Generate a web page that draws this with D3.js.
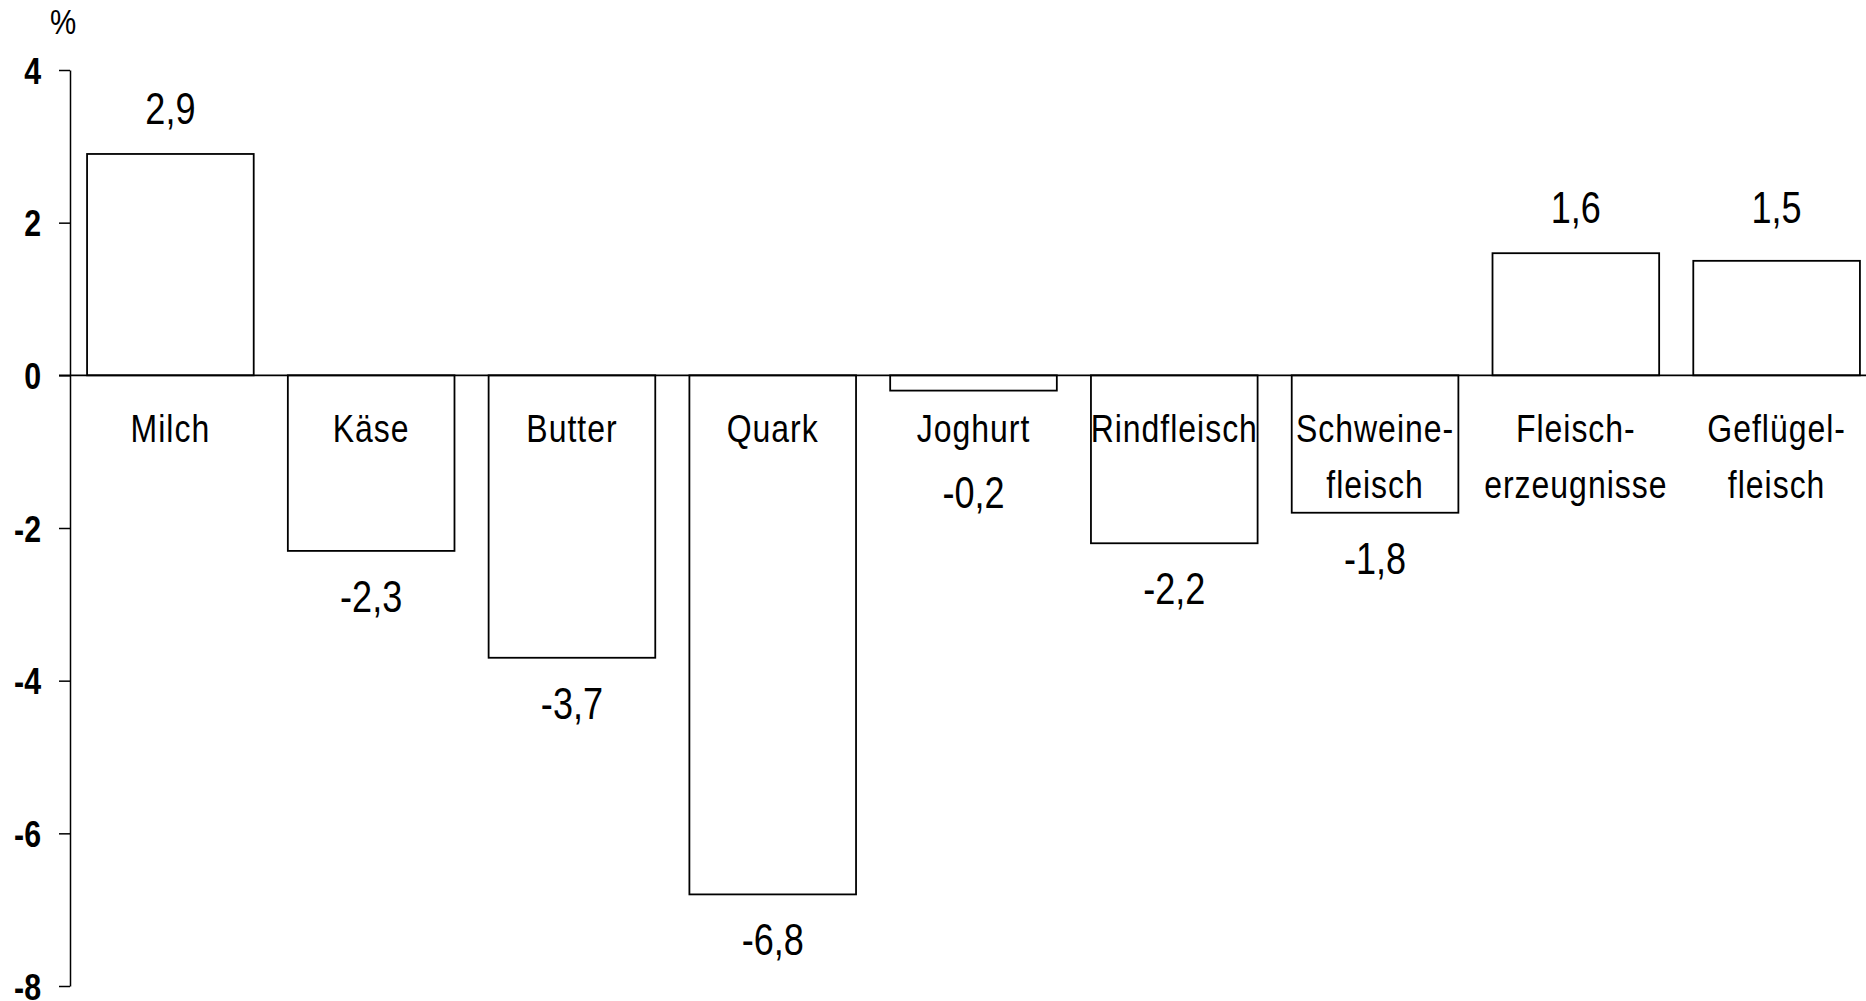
<!DOCTYPE html>
<html>
<head>
<meta charset="utf-8">
<script src="https://cdn.jsdelivr.net/npm/d3@7"></script>
<style>
  html, body { margin: 0; padding: 0; background: #fff; }
  svg { display: block; }
  text { font-family: "Liberation Sans", Arial, sans-serif; fill: #000; }
</style>
</head>
<body>
<svg id="chart" width="1866" height="1001"></svg>
<script>
// Veränderung gegenüber Vorjahr in %
const categories = ["Milch", "Käse", "Butter", "Quark", "Joghurt", "Rindfleisch", "Schweine-\nfleisch", "Fleisch-\nerzeugnisse", "Geflügel-\nfleisch"];
const values = [2.9, -2.3, -3.7, -6.8, -0.2, -2.2, -1.8, 1.6, 1.5];
const valueLabels = ["2,9", "-2,3", "-3,7", "-6,8", "-0,2", "-2,2", "-1,8", "1,6", "1,5"];
const yTicks = [4, 2, 0, -2, -4, -6, -8];
const unitLabel = "%";

// narrow type: Liberation Sans squeezed horizontally
const NARROW = 0.82;

const svg = d3.select("#chart");
const W = 1866, H = 1001;

const x = d3.scaleBand()
  .domain(categories)
  .range([70, 1877])
  .paddingInner(0.17)
  .paddingOuter(0.085);

const y = d3.scaleLinear()
  .domain([-8, 4])
  .range([986, 70]);

function narrowText(sel, fx, fy) {
  sel.attr("transform", (d, i) => `translate(${fx(d, i)},${fy(d, i)}) scale(${NARROW},1)`)
     .attr("x", 0).attr("y", 0);
  return sel;
}

// y axis
const yAxis = d3.axisLeft(y)
  .tickValues(yTicks)
  .tickSize(11)
  .tickSizeOuter(0)
  .tickFormat(d => String(d));

const gy = svg.append("g")
  .attr("transform", "translate(70,0)")
  .call(yAxis);
gy.select(".domain").attr("stroke", "#000").attr("stroke-width", 1.5);
gy.selectAll(".tick line").attr("stroke", "#000").attr("stroke-width", 1.5);
gy.selectAll(".tick text")
  .attr("transform", `scale(${NARROW},1)`)
  .attr("x", -29 / NARROW)
  .attr("dy", "0.36em")
  .style("font-size", "37px")
  .style("font-weight", "bold")
  .style("font-family", "\"Liberation Sans\", Arial, sans-serif");

// unit label
svg.append("text")
  .attr("transform", `translate(63,34) scale(${NARROW},1)`)
  .attr("text-anchor", "middle")
  .style("font-size", "36px")
  .text(unitLabel);

// bars
svg.append("g").selectAll("rect")
  .data(values)
  .join("rect")
  .attr("x", (d, i) => x(categories[i]))
  .attr("width", x.bandwidth())
  .attr("y", d => y(Math.max(0, d)))
  .attr("height", d => Math.abs(y(d) - y(0)))
  .attr("fill", "#fff")
  .attr("stroke", "#000")
  .attr("stroke-width", 1.8);

// zero line
svg.append("line")
  .attr("x1", 59).attr("x2", W)
  .attr("y1", y(0)).attr("y2", y(0))
  .attr("stroke", "#000")
  .attr("stroke-width", 1.8);

// category labels
const lineGap = 56;
const catBase = y(0) + 67;
const cats = svg.append("g").selectAll("text")
  .data(categories)
  .join("text")
  .attr("text-anchor", "middle")
  .style("font-size", "39px")
  .style("letter-spacing", "1.2px");
narrowText(cats, d => x(d) + x.bandwidth() / 2, () => catBase);
cats.selectAll("tspan")
  .data(d => d.split("\n"))
  .join("tspan")
  .attr("x", 0)
  .attr("dy", (d, i) => i === 0 ? 0 : lineGap)
  .text(d => d);

// value labels: positive ones above the bar (neighbouring positive bars share a baseline),
// negative ones below the bar end, pushed under the category label if they would collide
function labelY(d, i) {
  if (d >= 0) {
    let top = d;
    [i - 1, i + 1].forEach(j => { if (values[j] > 0) top = Math.max(top, values[j]); });
    return y(top) - 30;
  }
  const below = y(d) + 61;
  const nLines = categories[i].split("\n").length;
  const catBottom = catBase + (nLines - 1) * lineGap;
  return below < catBottom + 20 ? catBottom + 66 : below;
}
const vals = svg.append("g").selectAll("text")
  .data(values)
  .join("text")
  .attr("text-anchor", "middle")
  .style("font-size", "44px")
  .text((d, i) => valueLabels[i]);
narrowText(vals, (d, i) => x(categories[i]) + x.bandwidth() / 2, labelY);
</script>
</body>
</html>
